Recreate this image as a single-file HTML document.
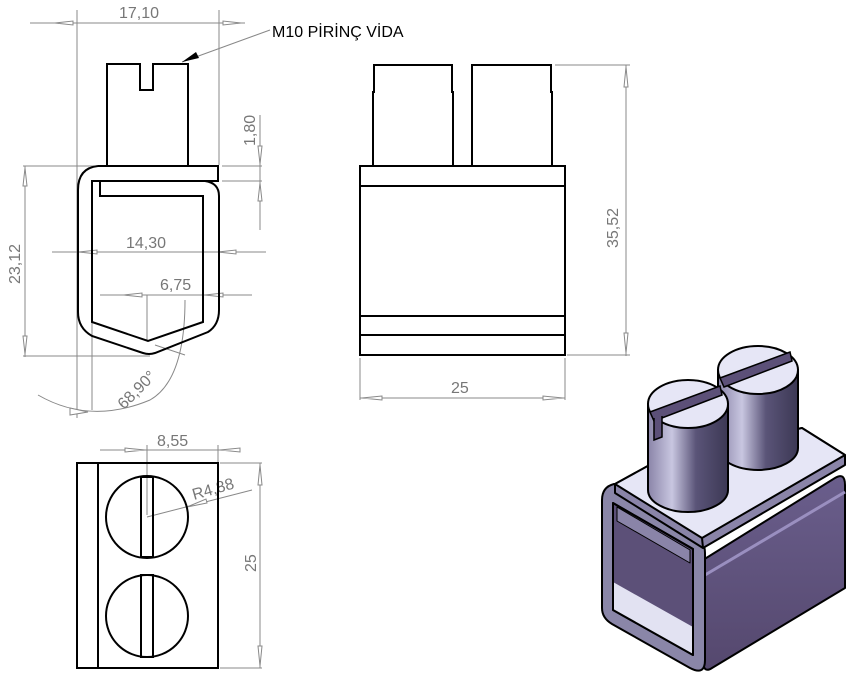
<!DOCTYPE html>
<html><head><meta charset="utf-8"><style>
html,body{margin:0;padding:0;background:#fff;}
svg{display:block;}
text{font-family:"Liberation Sans",sans-serif;fill:#777;font-size:16px;}
</style></head><body>
<svg width="851" height="676" viewBox="0 0 851 676" xmlns="http://www.w3.org/2000/svg">
<defs>
<linearGradient id="cyl" x1="0" x2="1" y1="0" y2="0">
<stop offset="0" stop-color="#8a84a8"/><stop offset="0.3" stop-color="#c8c6e0"/><stop offset="0.6" stop-color="#5a5478"/><stop offset="1" stop-color="#3c3854"/>
</linearGradient>
<linearGradient id="side" x1="0" x2="0" y1="0" y2="1">
<stop offset="0" stop-color="#6a5e8c"/><stop offset="1" stop-color="#55486e"/>
</linearGradient>
</defs>
<g stroke="#888" stroke-width="1" fill="none">
<line x1="30" y1="23" x2="245" y2="23"/>
<line x1="77" y1="10" x2="77" y2="418"/>
<line x1="219" y1="10" x2="219" y2="165"/>
<line x1="260" y1="115" x2="260" y2="230"/>
<line x1="222" y1="166" x2="262" y2="166"/>
<line x1="222" y1="181" x2="262" y2="181"/>
<line x1="25" y1="166" x2="25" y2="357"/>
<line x1="23" y1="166" x2="100" y2="166"/>
<line x1="23" y1="356" x2="150" y2="356"/>
<line x1="52" y1="252" x2="266" y2="252"/>
<line x1="100" y1="295" x2="252" y2="295"/>
<line x1="147" y1="295" x2="147" y2="340"/>
<line x1="92" y1="322" x2="92" y2="410"/>
<path d="M38,395 Q90,425 150,400 Q185,380 185,300"/>
<line x1="155" y1="345" x2="185" y2="355"/>
<path d="M55,23 L73,21 L73,25Z M241,23 L223,21 L223,25Z M260,164 L258,146 L262,146Z M260,183 L258,201 L262,201Z M25,168 L23,186 L27,186Z M25,354 L23,336 L27,336Z M79,252 L97,250 L97,254Z M218,252 L236,250 L236,254Z M124,295 L142,293 L142,297Z M205,295 L223,293 L223,297Z M88,412 L70,408 L70,415Z" fill="#fff"/>
<line x1="270" y1="30" x2="182" y2="62"/>
<line x1="555" y1="65" x2="630" y2="65"/>
<line x1="567" y1="355" x2="630" y2="355"/>
<line x1="626" y1="65" x2="626" y2="356"/>
<path d="M626,67 L624,87 L628,87Z M626,353 L624,333 L628,333Z" fill="#fff"/>
<line x1="360" y1="358" x2="360" y2="400"/>
<line x1="565" y1="358" x2="565" y2="400"/>
<line x1="360" y1="398" x2="565" y2="398"/>
<path d="M362,398 L382,396 L382,400Z M563,398 L543,396 L543,400Z" fill="#fff"/>
<line x1="100" y1="450" x2="240" y2="450"/>
<line x1="147" y1="445" x2="147" y2="515"/>
<line x1="218" y1="445" x2="218" y2="462"/>
<path d="M145,450 L125,448 L125,452Z M220,450 L240,448 L240,452Z" fill="#fff"/>
<line x1="147" y1="517" x2="252" y2="490"/>
<path d="M187,507 L206,499 L207,503Z" fill="#fff"/>
<line x1="220" y1="463" x2="262" y2="463"/>
<line x1="220" y1="668" x2="262" y2="668"/>
<line x1="260" y1="463" x2="260" y2="668"/>
<path d="M260,465 L258,485 L262,485Z M260,666 L258,646 L262,646Z" fill="#fff"/>
</g>
<path d="M182,62 L196,52 L199,58Z" fill="#000"/>
<text x="119" y="18">17,10</text>
<text x="272" y="37" style="fill:#000">M10 PİRİNÇ VİDA</text>
<text transform="translate(255,146) rotate(-90)">1,80</text>
<text transform="translate(20,284) rotate(-90)">23,12</text>
<text x="126" y="248">14,30</text>
<text x="160" y="290">6,75</text>
<text transform="translate(124,410) rotate(-45)">68,90°</text>
<text transform="translate(618,248) rotate(-90)">35,52</text>
<text x="451" y="393">25</text>
<text x="157" y="446">8,55</text>
<text transform="translate(194,500) rotate(-16)">R4,88</text>
<text transform="translate(256,572) rotate(-90)">25</text>

<g stroke="#000" stroke-width="2" fill="none">
<path d="M107,166 L107,64 L140,64 L140,90 L153,90 L153,64 L188,64 L188,166"/>
<path d="M98,166 L218,166 L218,181 L92,181 L92,322 L148,341 L203,322 L203,196 L100,196 L100,181"/>
<path d="M98,166 Q78,168 78,190 L78,312 Q78,328 92,336 L143,353 Q149,355 155,353 L208,332 Q219,325 219,310 L219,196 Q219,183 205,181"/>
<path d="M373,166 L373,92 L374,92 L374,65 L452,65 L452,92 L453,92 L453,166"/>
<path d="M472,166 L472,92 L472,65 L551,65 L551,92 L552,92 L552,166"/>
<rect x="360" y="166" width="205" height="189"/>
<line x1="360" y1="186" x2="565" y2="186"/>
<line x1="360" y1="316" x2="565" y2="316"/>
<line x1="360" y1="335" x2="565" y2="335"/>
<rect x="77" y="463" width="141" height="205"/>
<line x1="98" y1="463" x2="98" y2="668"/>
<circle cx="147" cy="517" r="41"/>
<circle cx="147" cy="616" r="41"/>
<rect x="141" y="477" width="12" height="80"/>
<rect x="141" y="575" width="12" height="82"/>
</g>

<!-- isometric -->
<g stroke="#000" stroke-width="2" stroke-linejoin="round">
<!-- side face -->
<path d="M703,560 L835,478 Q845,472 845,485 L845,588 L712,668 Q703,674 703,660 Z" fill="url(#side)"/>
<path d="M705,575 L845,492" stroke="#9a8fc0" stroke-width="3" fill="none"/>
<!-- front frame -->
<path d="M614,484 Q602,487 602,500 L602,608 Q602,618 612,624 L690,668 Q705,676 705,660 L705,553 Q705,540 693,533 L620,485 Z" fill="#8a86a8"/>
<path d="M613,503 L693,549 L693,655 L613,610 Z" fill="#5c5078"/>
<polygon points="613,582 693,627 693,655 613,610" fill="#e2e2f2" stroke="none"/>
<polygon points="617,507 690,550 690,563 617,521" fill="#8a84a8" stroke-width="1"/>
<path d="M613,503 L693,549 L693,655 L613,610 Z" fill="none"/>
<!-- top plate -->
<polygon points="615,484 655,462 802,428 845,455 845,465 703,548 615,493" fill="#8a84a8"/>
<polygon points="615,484 655,462 802,428 845,455 702,538" fill="#e6e6f6"/>
<line x1="702" y1="538" x2="703" y2="548"/>
</g>
<g stroke="#000" stroke-width="2">
<path d="M718,370 L718,448 A40,22 0 0 0 798,448 L798,370 Z" fill="url(#cyl)"/>
<ellipse cx="758" cy="370" rx="40" ry="24" fill="#e6e6f6"/>
<path d="M720,378 L790,352 L792,361 L724,387 Z" fill="#5c5078" stroke-width="1.5"/>
<path d="M648,404 L648,490 A40,22 0 0 0 728,490 L728,404 Z" fill="url(#cyl)"/>
<ellipse cx="688" cy="404" rx="40" ry="24" fill="#e6e6f6"/>
<path d="M650,412 L720,386 L722,395 L654,421 Z" fill="#5c5078" stroke-width="1.5"/>
<path d="M654,418 L654,440 L662,437 L662,416" fill="#5c5078" stroke-width="1.5"/>
</g>
</svg>
</body></html>
